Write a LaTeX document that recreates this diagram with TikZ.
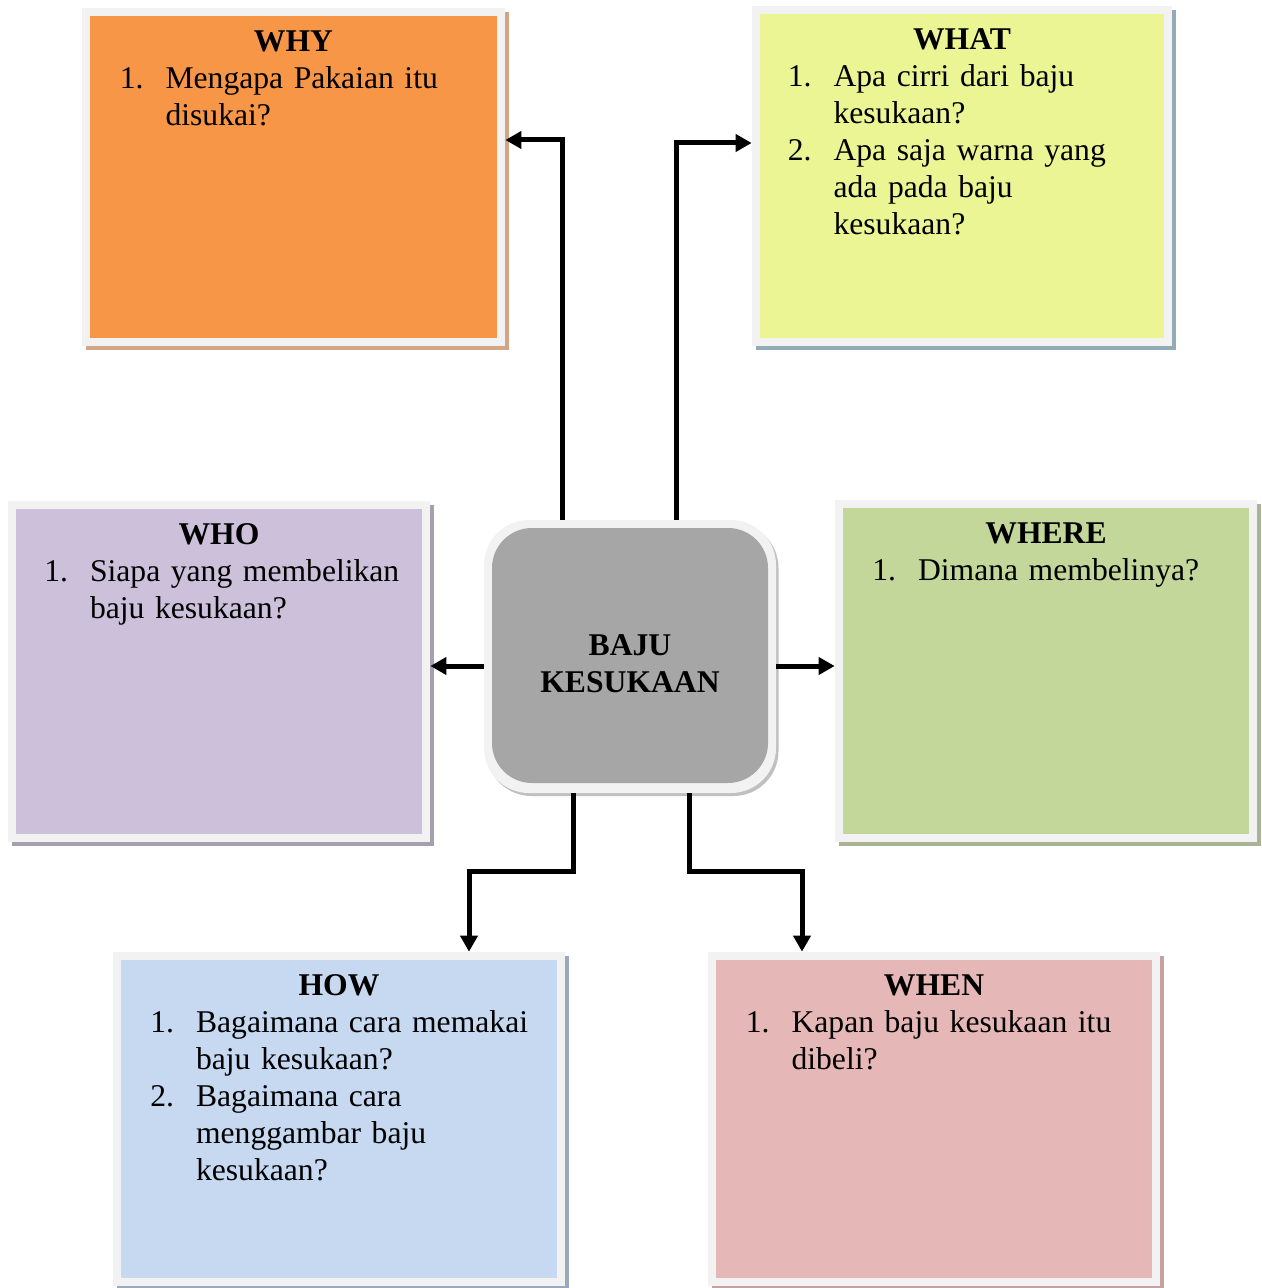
\documentclass[tikz,border=0pt]{standalone}
\usepackage{fontspec}
\setmainfont{Liberation Serif}
\usetikzlibrary{positioning,shadows,arrows.meta}

\definecolor{frame}{HTML}{F2F2F2}
\definecolor{whyfill}{HTML}{F79646}
\definecolor{whyshade}{HTML}{D4A584}
\definecolor{whatfill}{HTML}{EBF593}
\definecolor{whatshade}{HTML}{93ABB6}
\definecolor{whofill}{HTML}{CCC0DA}
\definecolor{whoshade}{HTML}{A79EB0}
\definecolor{wherefill}{HTML}{C4D79B}
\definecolor{whereshade}{HTML}{A9B496}
\definecolor{howfill}{HTML}{C6D9F1}
\definecolor{howshade}{HTML}{9AA9BA}
\definecolor{whenfill}{HTML}{E5B8B7}
\definecolor{whenshade}{HTML}{C4A2A4}
\definecolor{bajufill}{HTML}{A6A6A6}
\definecolor{bajushade}{HTML}{C0C0C0}

\begin{document}
\begin{tikzpicture}[x=0.2mm, y=-0.2mm,
    font=\fontsize{18}{21}\selectfont,
    card/.style 2 args={rectangle, fill=frame, inner sep=0pt,
        drop shadow={shadow xshift=0.8mm, shadow yshift=-0.8mm, fill=#2, opacity=1},
        path picture={\fill[#1] ([shift={(1.6mm,-1.6mm)}]path picture bounding box.north west)
            rectangle ([shift={(-1.6mm,1.6mm)}]path picture bounding box.south east);}},
    quest/.style={inner sep=0pt, align=left},
    conn/.style={line width=1mm, -{Triangle[length=3.2mm, width=3.4mm]}}]
    \useasboundingbox (0,0) rectangle (1261,1288);

    % the six question cards
    \node[card={whyfill}{whyshade}, minimum width=84.6mm, minimum height=67.6mm] (why) at (293.5,177) {};
    \node[card={whatfill}{whatshade}, minimum width=84mm, minimum height=68mm] (what) at (962,176) {};
    \node[card={whofill}{whoshade}, minimum width=84.4mm, minimum height=68.2mm] (who) at (219,671.5) {};
    \node[card={wherefill}{whereshade}, minimum width=84.4mm, minimum height=68.4mm] (where) at (1046,671) {};
    \node[card={howfill}{howshade}, minimum width=90.4mm, minimum height=66.8mm] (how) at (339,1119) {};
    \node[card={whenfill}{whenshade}, minimum width=90.4mm, minimum height=66.8mm] (when) at (934,1119) {};

    % centre
    \node[rectangle, rounded corners=9mm, fill=frame, inner sep=0pt,
        minimum width=58.4mm, minimum height=54.6mm,
        drop shadow={shadow xshift=0.5mm, shadow yshift=-0.6mm, fill=bajushade, opacity=1},
        path picture={\fill[bajufill, rounded corners=8mm]
            ([shift={(1.6mm,-1.6mm)}]path picture bounding box.north west)
            rectangle ([shift={(-1.6mm,2mm)}]path picture bounding box.south east);}]
        (baju) at (630,656.5) {};
    \node[align=center, font=\fontsize{18}{21}\selectfont\bfseries] (bajut)
        at ([yshift=-1.5mm]baju.center) {BAJU\\KESUKAAN};

    \node[quest, text width=81.4mm, below=4.6mm of why.north] (whyq) {\centerline{\bfseries WHY}\par
        \begin{tabular}[t]{@{\hspace{17pt}}p{26pt}@{}l@{}}
        1. & Mengapa Pakaian itu\\
           & disukai?
        \end{tabular}};
    \node[quest, text width=81.6mm, below=4.6mm of what.north] (whatq) {\centerline{\bfseries WHAT}\par
        \begin{tabular}[t]{@{\hspace{17pt}}p{26pt}@{}l@{}}
        1. & Apa cirri dari baju\\
           & kesukaan?\\
        2. & Apa saja warna yang\\
           & ada pada baju\\
           & kesukaan?
        \end{tabular}};
    \node[quest, text width=81.8mm, below=4.6mm of who.north] (whoq) {\centerline{\bfseries WHO}\par
        \begin{tabular}[t]{@{\hspace{17pt}}p{26pt}@{}l@{}}
        1. & Siapa yang membelikan\\
           & baju kesukaan?
        \end{tabular}};
    \node[quest, text width=81.4mm, below=4.6mm of where.north] (whereq) {\centerline{\bfseries WHERE}\par
        \begin{tabular}[t]{@{\hspace{17pt}}p{26pt}@{}l@{}}
        1. & Dimana membelinya?
        \end{tabular}};
    \node[quest, text width=87.4mm, below=4.6mm of how.north] (howq) {\centerline{\bfseries HOW}\par
        \begin{tabular}[t]{@{\hspace{17pt}}p{26pt}@{}l@{}}
        1. & Bagaimana cara memakai\\
           & baju kesukaan?\\
        2. & Bagaimana cara\\
           & menggambar baju\\
           & kesukaan?
        \end{tabular}};
    \node[quest, text width=87.2mm, below=4.6mm of when.north] (whenq) {\centerline{\bfseries WHEN}\par
        \begin{tabular}[t]{@{\hspace{17pt}}p{26pt}@{}l@{}}
        1. & Kapan baju kesukaan itu\\
           & dibeli?
        \end{tabular}};

    % connectors
    \draw[conn] ([xshift=-13.6mm]baju.north) |- ([yshift=7.4mm]why.east);
    \draw[conn] ([xshift=9.2mm]baju.north) |- ([yshift=6.6mm]what.west);
    \coordinate (l) at ([yshift=-1.9mm]baju.west);
    \coordinate (r) at ([yshift=-1.9mm]baju.east);
    \draw[conn] (l) -- (l -| who.east);
    \draw[conn] (r) -- (r -| where.west);
    \draw[conn] ([xshift=-11.4mm]baju.south) -- ++(0,78) -| ([xshift=26mm]how.north);
    \draw[conn] ([xshift=11.8mm]baju.south) -- ++(0,78) -| ([xshift=-26.4mm]when.north);
\end{tikzpicture}
\end{document}
